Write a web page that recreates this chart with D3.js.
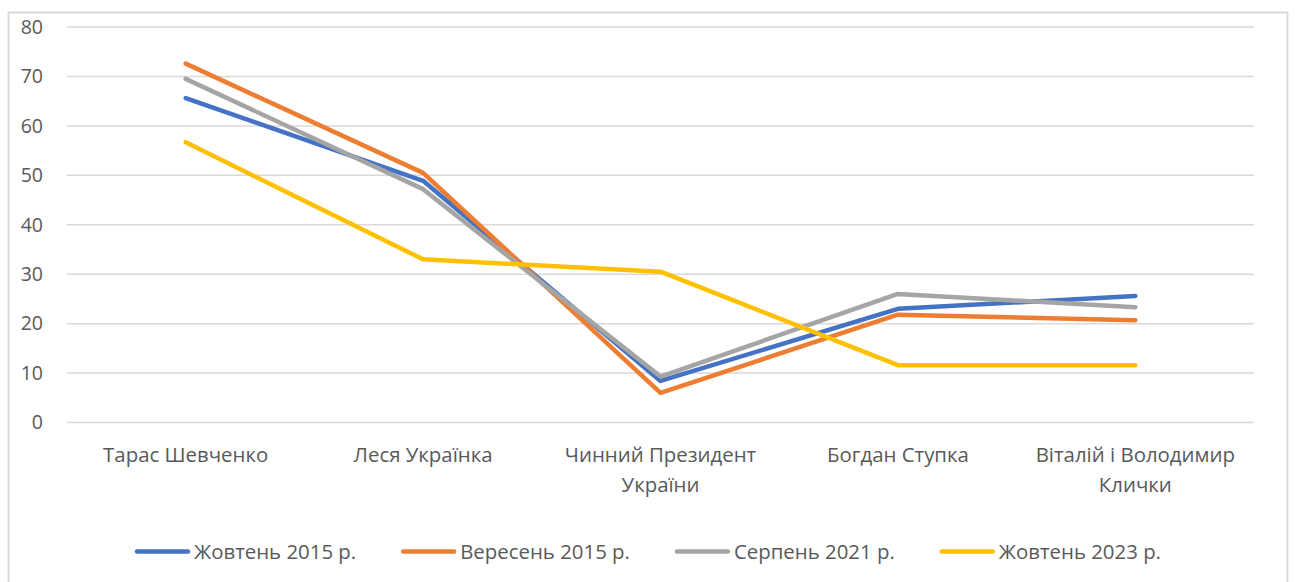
<!DOCTYPE html>
<html>
<head>
<meta charset="utf-8">
<script src="https://cdn.jsdelivr.net/npm/d3@7"></script>
<style>
  body { margin: 0; background: #fff; }
  text { font-family: "Open Sans", sans-serif; fill: #595959; }
</style>
</head>
<body>
<svg id="chart" width="1295" height="582"></svg>
<script>
// categories (line breaks as in the original)
const categories = ["Тарас Шевченко", "Леся Українка", "Чинний Президент\nУкраїни", "Богдан Ступка", "Віталій і Володимир\nКлички"];
const seriesNames = ["Жовтень 2015 р.", "Вересень 2015 р.", "Серпень 2021 р.", "Жовтень 2023 р."];
const oct2015 = [65.6, 48.9, 8.4, 23.0, 25.6];
const sep2015 = [72.6, 50.5, 6.0, 21.8, 20.7];
const aug2021 = [69.5, 47.2, 9.3, 26.0, 23.3];
const oct2023 = [56.7, 33.0, 30.5, 11.6, 11.6];
const yTicks = [0, 10, 20, 30, 40, 50, 60, 70, 80];
const colors = ["#4472C4", "#ED7D31", "#A5A5A5", "#FFC000"];

const series = [oct2015, sep2015, aug2021, oct2023];

const svg = d3.select("#chart");

// chart frame
svg.append("rect")
  .attr("x", 8.5).attr("y", 12.5)
  .attr("width", 1279).attr("height", 600)
  .attr("fill", "none")
  .attr("stroke", "#d9d9d9")
  .attr("stroke-width", 2);

const plotLeft = 67, plotRight = 1254, plotTop = 27, plotBottom = 422.5;

const x = d3.scaleBand().domain(categories).range([plotLeft, plotRight]);
const y = d3.scaleLinear().domain([0, 80]).range([plotBottom, plotTop]);

// gridlines
svg.append("g")
  .selectAll("line")
  .data(yTicks)
  .enter()
  .append("line")
  .attr("x1", plotLeft).attr("x2", plotRight)
  .attr("y1", d => y(d)).attr("y2", d => y(d))
  .attr("stroke", "#d9d9d9")
  .attr("stroke-width", 1.5);

// Y axis
const yAxis = svg.append("g")
  .attr("transform", "translate(" + plotLeft + ",0)")
  .call(d3.axisLeft(y).tickValues(yTicks).tickSize(0).tickPadding(24));
yAxis.select(".domain").remove();
yAxis.selectAll("text")
  .attr("font-size", 19.5)
  .attr("font-family", "Lato, 'Open Sans', sans-serif")
  .attr("fill", "#595959");

// X axis
const xAxis = svg.append("g")
  .attr("transform", "translate(0," + plotBottom + ")")
  .call(d3.axisBottom(x).tickSize(0).tickPadding(0));
xAxis.select(".domain").remove();
xAxis.selectAll("text").remove();
xAxis.selectAll(".tick").each(function(d) {
  const t = d3.select(this).append("text")
    .attr("text-anchor", "middle")
    .attr("font-size", 20.4)
    .attr("fill", "#595959");
  d.split("\n").forEach((line, i) => {
    t.append("tspan").attr("x", 0).attr("y", 39 + i * 30).text(line);
  });
});

// lines
const line = d3.line()
  .x((d, i) => x(categories[i]) + x.bandwidth() / 2)
  .y(d => y(d));

svg.append("g")
  .selectAll("path")
  .data(series)
  .enter()
  .append("path")
  .attr("d", d => line(d))
  .attr("fill", "none")
  .attr("stroke", (d, i) => colors[i])
  .attr("stroke-width", 4.5)
  .attr("stroke-linejoin", "round")
  .attr("stroke-linecap", "round");

// legend (laid out once fonts are ready so text widths are right)
function drawLegend() {
  svg.selectAll(".legend").remove();
  const legend = svg.append("g").attr("class", "legend");
  let lx = 135;
  const ly = 551.5;
  seriesNames.forEach((name, i) => {
    legend.append("line")
      .attr("x1", lx + 2).attr("x2", lx + 53)
      .attr("y1", ly).attr("y2", ly)
      .attr("stroke", colors[i])
      .attr("stroke-width", 4.5)
      .attr("stroke-linecap", "round");
    const t = legend.append("text")
      .attr("x", lx + 59).attr("y", ly + 7)
      .attr("font-size", 20.4)
      .text(name);
    lx += 59 + t.node().getBBox().width + 45;
  });
}
drawLegend();
document.fonts.ready.then(drawLegend);
</script>
</body>
</html>
